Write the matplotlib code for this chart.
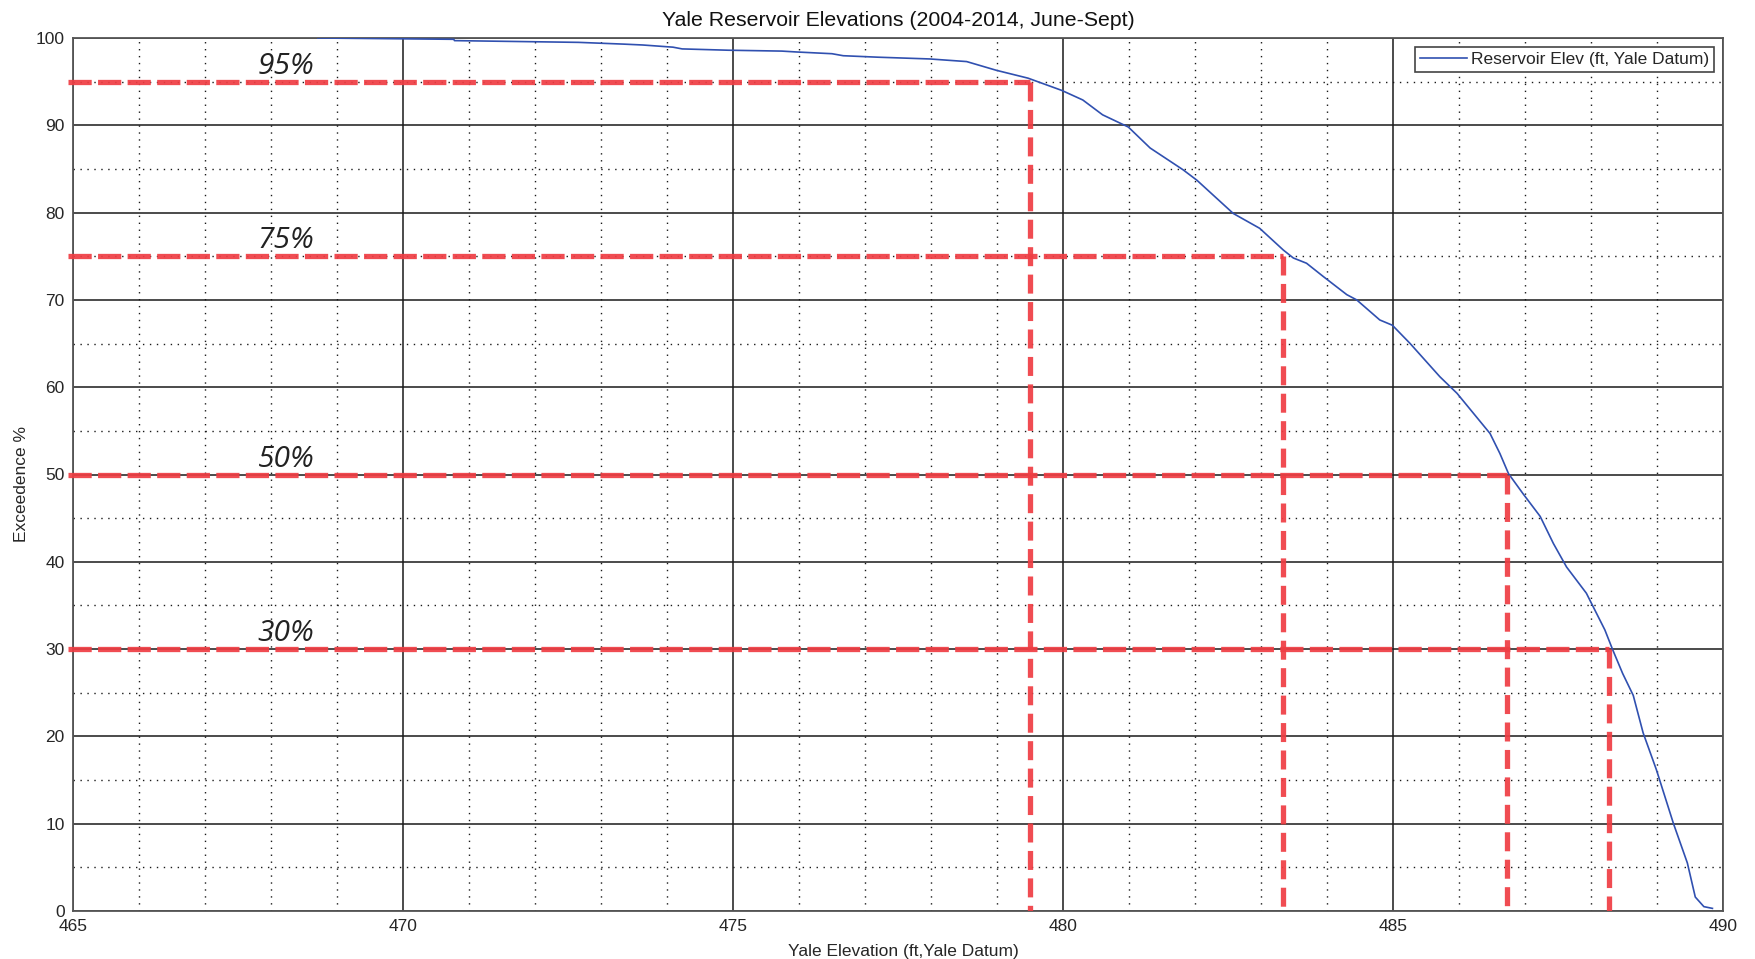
import matplotlib
matplotlib.use("Agg")
import matplotlib.pyplot as plt
from matplotlib.ticker import MultipleLocator

# Exceedance curve of reservoir elevation (ft, Yale datum) vs. exceedance %
elevation = [468.71, 470.77, 470.78, 472.66, 473.34, 473.63, 474.09, 474.23,
             474.93, 475.74, 475.96, 476.50, 476.67, 477.20, 477.98, 478.54,
             478.99, 479.47, 479.98, 480.30, 480.60, 480.99, 481.32, 481.82,
             482.03, 482.58, 482.98, 483.34, 483.49, 483.69, 483.94, 484.30,
             484.45, 484.80, 484.99, 485.26, 485.71, 485.97, 486.22, 486.47,
             486.62, 486.75, 486.97, 487.23, 487.43, 487.63, 487.93, 488.21,
             488.33, 488.48, 488.64, 488.79, 488.99, 489.25, 489.46, 489.58,
             489.71, 489.84]
exceedance = [100.0, 99.85, 99.7, 99.5, 99.3, 99.2, 98.95, 98.75,
              98.6, 98.5, 98.4, 98.2, 97.97, 97.8, 97.6, 97.3,
              96.3, 95.4, 94.0, 92.9, 91.2, 89.8, 87.4, 84.9,
              83.7, 79.9, 78.2, 75.7, 74.8, 74.2, 72.7, 70.6,
              70.0, 67.7, 67.1, 65.0, 61.2, 59.3, 57.0, 54.7,
              52.4, 50.1, 47.8, 45.2, 42.1, 39.4, 36.4, 32.2,
              29.9, 27.2, 24.7, 20.4, 16.2, 10.0, 5.5, 1.6,
              0.5, 0.3]

# Highlighted exceedance levels and the elevations they correspond to
levels = [95, 75, 50, 30]
level_elev = [479.5, 483.34, 486.73, 488.28]
level_labels = ["95%", "75%", "50%", "30%"]

W, H = 1756, 959
fig = plt.figure(figsize=(W / 100, H / 100), dpi=100)
ax = fig.add_axes([73 / W, 1 - 911 / H, 1650 / W, 873 / H])

sans = ["Liberation Sans", "DejaVu Sans"]
txt_color = "#262626"

ax.set_xlim(465, 490)
ax.set_ylim(0, 100)
ax.xaxis.set_major_locator(MultipleLocator(5))
ax.xaxis.set_minor_locator(MultipleLocator(1))
ax.yaxis.set_major_locator(MultipleLocator(10))
ax.yaxis.set_minor_locator(MultipleLocator(5))

ax.grid(which="major", color="#1a1a1a", linewidth=1.1, linestyle="-")
ax.grid(which="minor", color="#1a1a1a", linewidth=1.0, linestyle=(0, (1, 4)))
ax.set_axisbelow(True)
ax.tick_params(which="both", length=0, labelsize=12.5, labelcolor=txt_color)
ax.tick_params(axis="x", pad=6)
ax.tick_params(axis="y", pad=6)
for lbl in ax.get_xticklabels() + ax.get_yticklabels():
    lbl.set_family(sans)
for sp in ax.spines.values():
    sp.set_color("#555555")
    sp.set_linewidth(1.3)

line, = ax.plot(elevation, exceedance, color="#3050B0", linewidth=1.2,
                label="Reservoir Elev (ft, Yale Datum)", zorder=4)

red = "#EF3D43"
for lev, xe, lab in zip(levels, level_elev, level_labels):
    ax.plot([464.93, xe], [lev, lev], color=red, linewidth=3.8, alpha=0.92,
            dashes=(4.4, 1.2), solid_capstyle="butt", dash_capstyle="butt",
            clip_on=False, zorder=5)
    ax.plot([xe, xe], [lev, 0], color=red, linewidth=3.8, alpha=0.92,
            dashes=(3.6, 1.6), dash_capstyle="butt", zorder=5)
    ax.text(467.8, lev + 0.9, lab, fontsize=21.5, fontstyle="italic",
            family=["Open Sans", "DejaVu Sans"], color="#222222",
            ha="left", va="baseline", zorder=6)

leg = ax.legend(handles=[line], loc="upper right",
                prop={"family": sans, "size": 12.5},
                handlelength=2.7, handletextpad=0.25, borderpad=0.3,
                borderaxespad=0.5, fancybox=False, framealpha=1.0)
leg.get_frame().set_edgecolor("#444444")
leg.get_frame().set_linewidth(1.2)
for t in leg.get_texts():
    t.set_color(txt_color)

fig.text(898 / W, 1 - 26 / H, "Yale Reservoir Elevations (2004-2014, June-Sept)",
         ha="center", va="baseline", fontsize=15.3, family=sans, color="#111111")
fig.text(903 / W, 1 - 956 / H, "Yale Elevation (ft,Yale Datum)",
         ha="center", va="baseline", fontsize=12.5, family=sans, color=txt_color)
fig.text(22 / W, 474.5 / H, "Exceedence %", rotation=90,
         ha="center", va="center", fontsize=12.5, family=sans, color=txt_color)

fig.savefig("out.png", dpi=100, facecolor="white")
